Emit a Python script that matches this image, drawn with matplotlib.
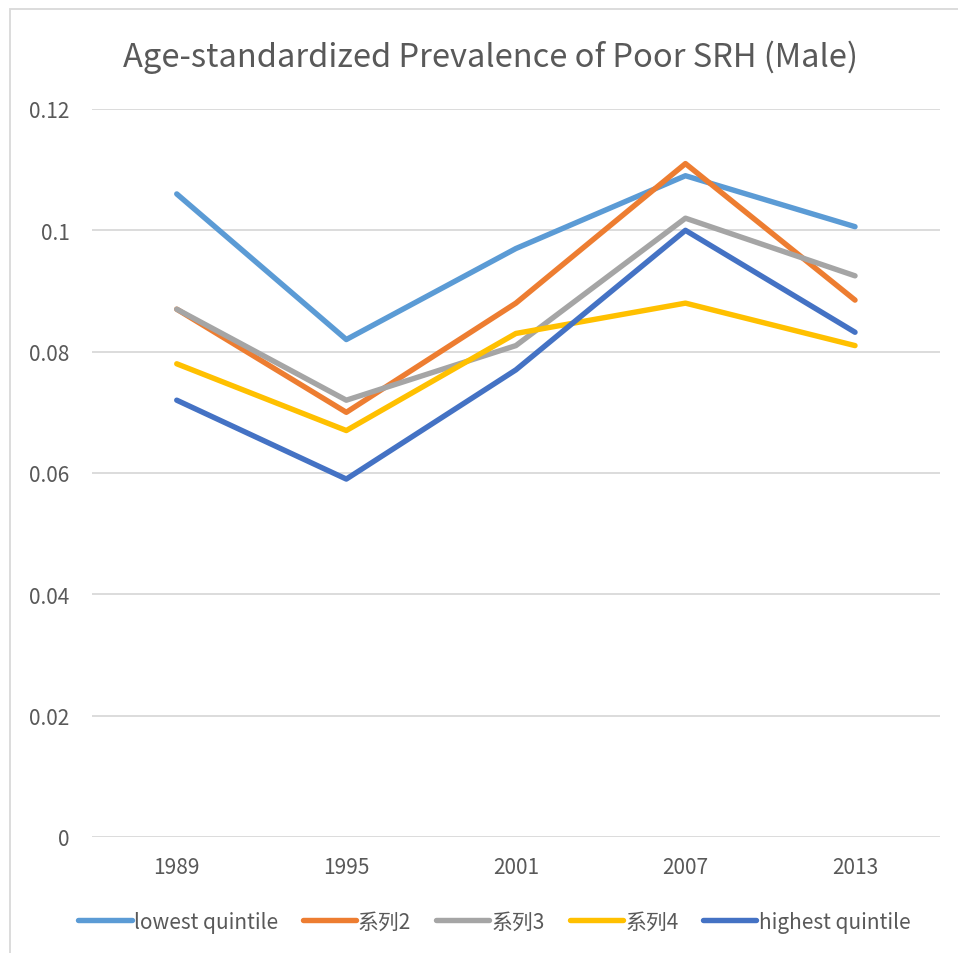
import matplotlib
matplotlib.use("Agg")
import matplotlib.pyplot as plt
from matplotlib.patches import Rectangle

plt.rcParams['font.family'] = ['Noto Sans CJK SC', 'DejaVu Sans']

years = ["1989", "1995", "2001", "2007", "2013"]
lowest = [0.106, 0.082, 0.097, 0.109, 0.1006]
s2 = [0.087, 0.070, 0.088, 0.111, 0.0885]
s3 = [0.087, 0.072, 0.081, 0.102, 0.0925]
s4 = [0.078, 0.067, 0.083, 0.088, 0.081]
highest = [0.072, 0.059, 0.077, 0.100, 0.0832]

names = ["lowest quintile", "系列2", "系列3", "系列4", "highest quintile"]
colors = ["#5B9BD5", "#ED7D31", "#A5A5A5", "#FFC000", "#4472C4"]
series = [lowest, s2, s3, s4, highest]

txt = "#595959"
fig = plt.figure(figsize=(9.58, 9.54), dpi=100)
ax = fig.add_axes([0.096, 0.1216, 0.885, 0.7631])

x = range(len(years))
for vals, c, n in zip(series, colors, names):
    ax.plot(x, vals, color=c, lw=3.9, solid_capstyle="round", solid_joinstyle="round", label=n)

ax.set_xlim(-0.5, 4.5)
ax.set_ylim(0, 0.12)
ax.set_yticks([0, 0.02, 0.04, 0.06, 0.08, 0.1, 0.12])
ax.set_yticklabels(["0", "0.02", "0.04", "0.06", "0.08", "0.1", "0.12"])
ax.set_xticks(list(x))
ax.set_xticklabels(years)
ax.grid(axis="y", color="#d9d9d9", lw=1.3)
ax.set_axisbelow(True)
for s in ax.spines.values():
    s.set_visible(False)
ax.tick_params(length=0, colors=txt, labelsize=15, pad=16)
ax.tick_params(axis="x", pad=14)

fig.text(0.512, 0.94, "Age-standardized Prevalence of Poor SRH (Male)", ha="center", va="center",
         fontsize=23.5, color=txt, fontweight="light")

fig.legend(loc="center", bbox_to_anchor=(0.516, 0.033), ncol=5, frameon=False, fontsize=15,
           handlelength=2.55, handletextpad=0.1, columnspacing=1.2, labelcolor=txt)

fig.patches.append(Rectangle((10 / 958, -0.01), 1.0, 1 - 10 / 954 + 0.01, transform=fig.transFigure,
                             fill=False, edgecolor="#d9d9d9", lw=1.3))

fig.savefig("out.png", dpi=100)
